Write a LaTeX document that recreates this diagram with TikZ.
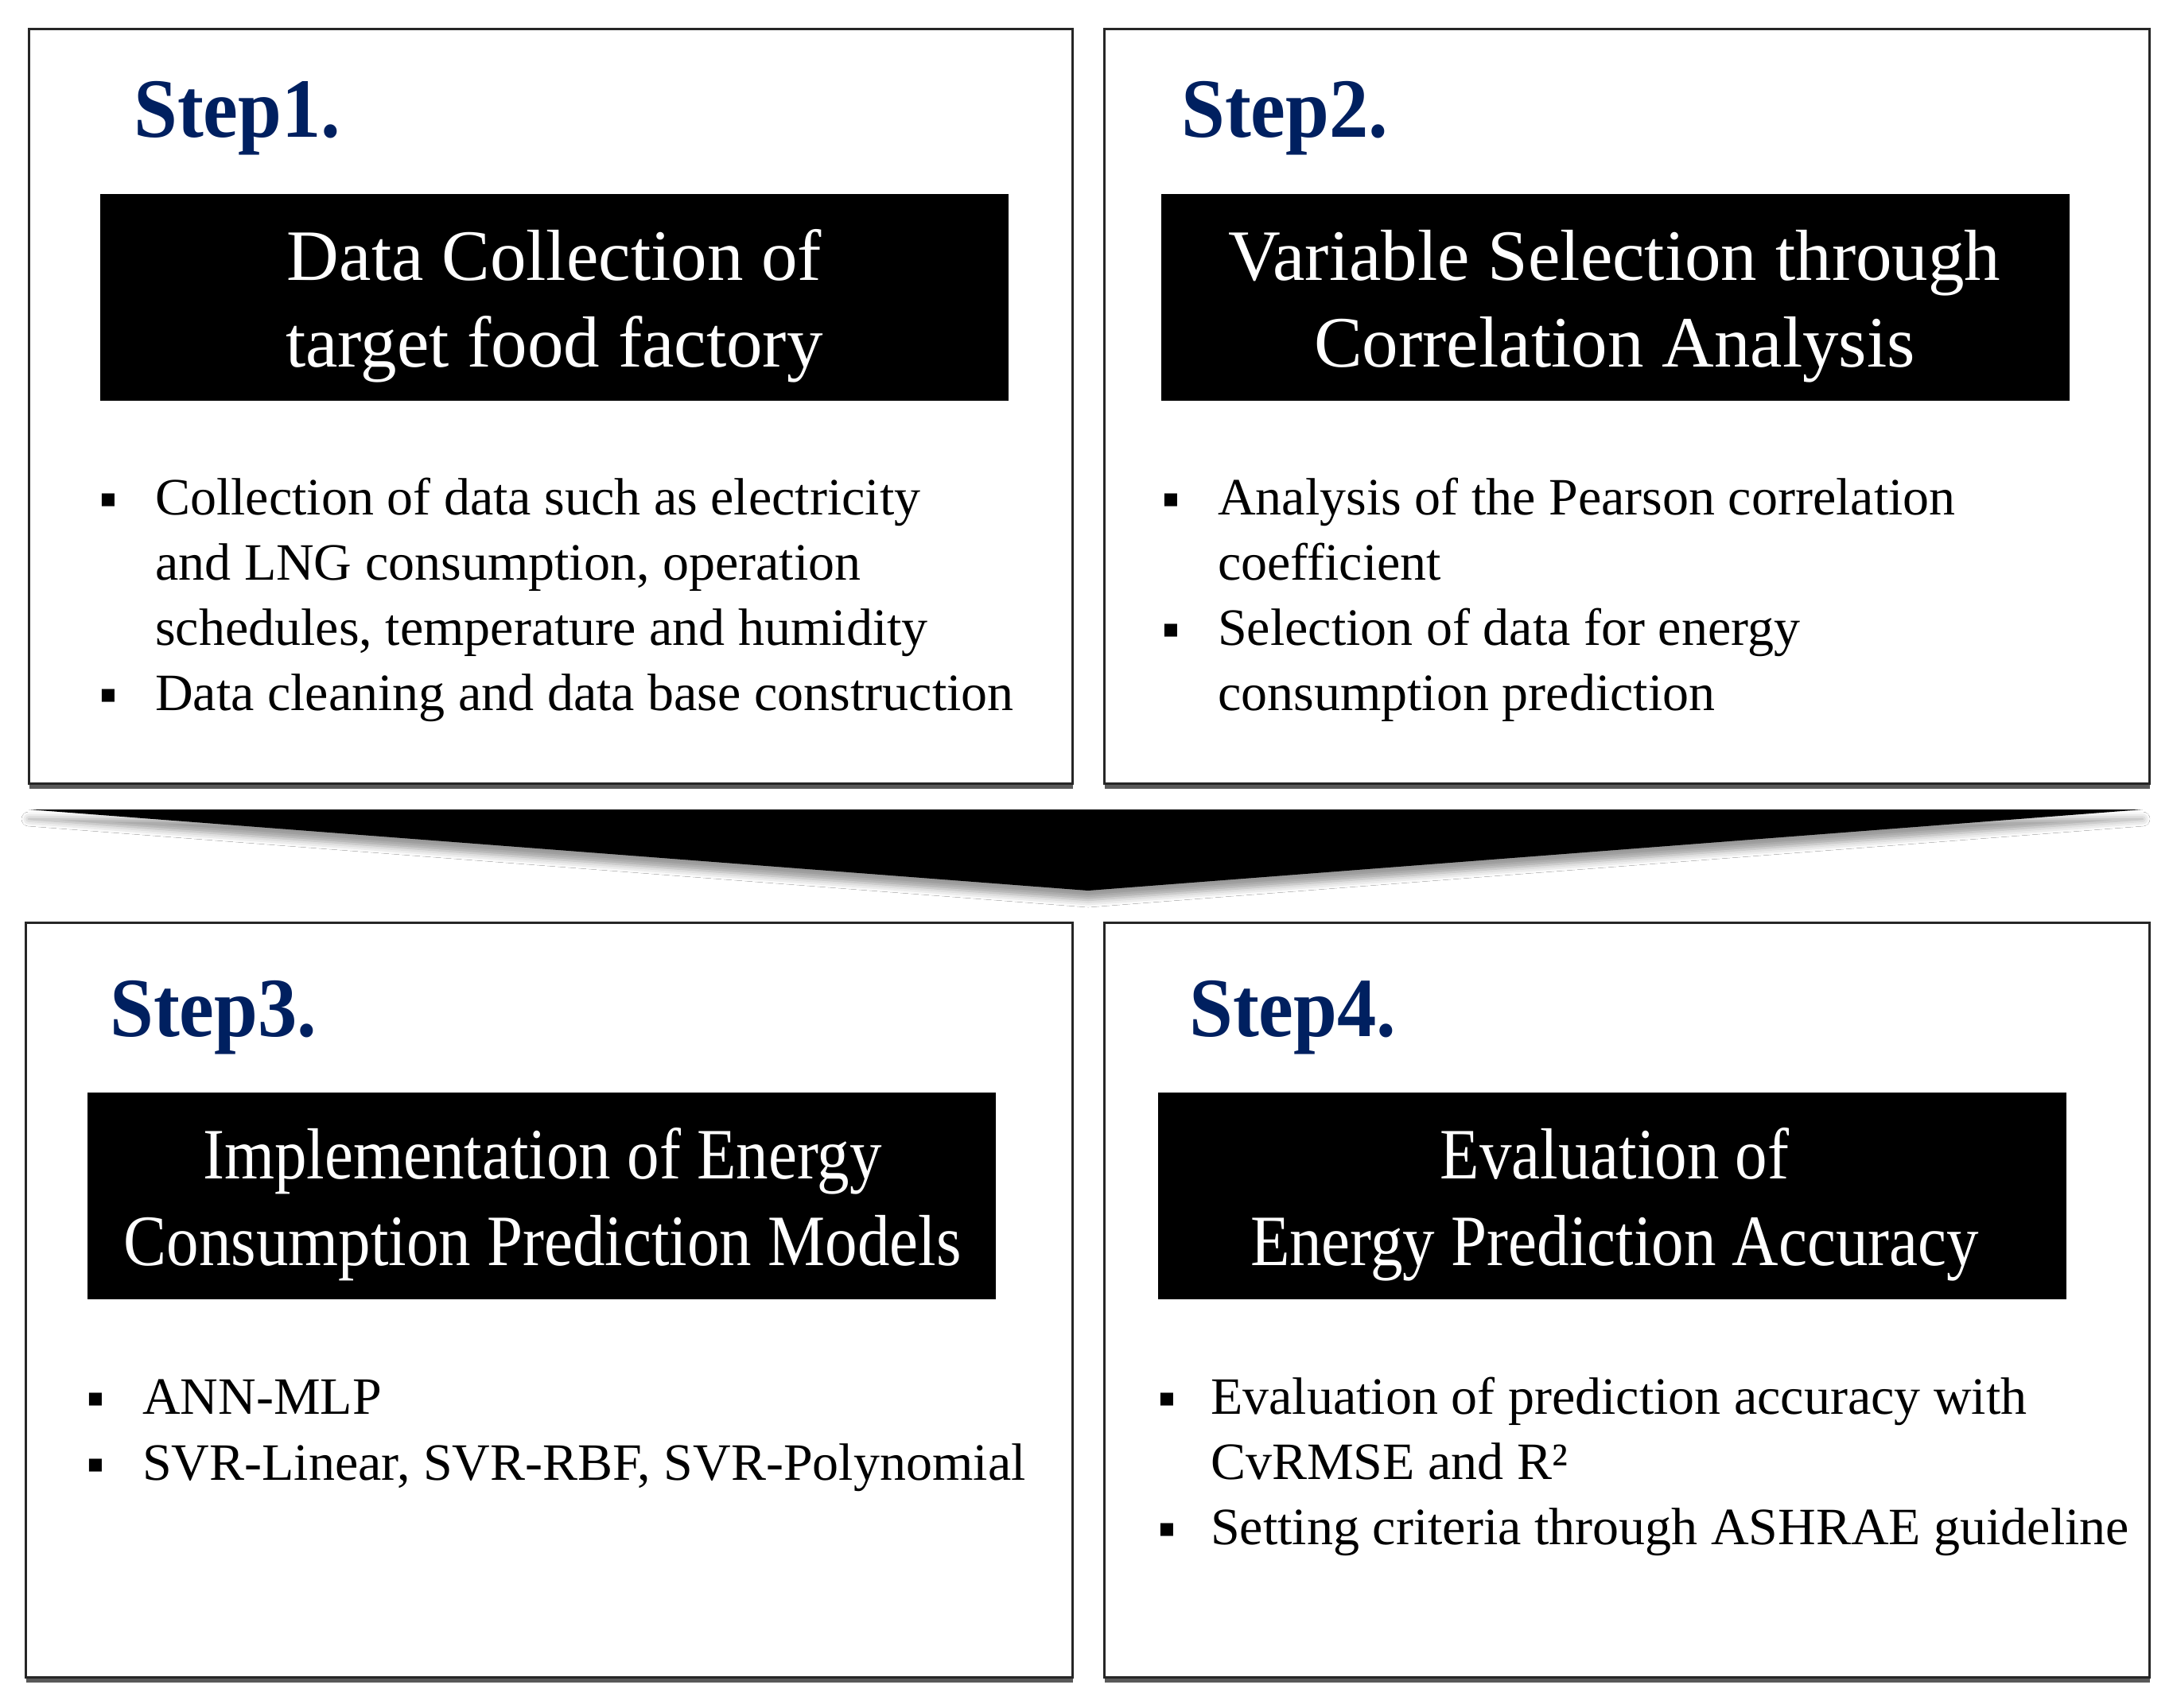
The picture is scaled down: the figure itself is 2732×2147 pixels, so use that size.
\documentclass[tikz,border=0pt]{standalone}
\usepackage{fontspec}
\setmainfont{Liberation Serif}
\newfontfamily\stepfont[FakeStretch=0.93]{Liberation Serif}
\newfontfamily\condfont[FakeStretch=0.89]{Liberation Serif}
\newfontfamily\symfont{DejaVu Sans}
\usetikzlibrary{shadows,shadows.blur}
\definecolor{stepblue}{RGB}{0,32,96}
\begin{document}
\begin{tikzpicture}[x=1pt,y=-1pt,
  frame/.style={draw=black!85, line width=3pt, fill=white, inner sep=0pt, anchor=north west,
    drop shadow={shadow xshift=0pt, shadow yshift=-6pt, fill=black!65, opacity=1}},
  tbox/.style={fill=black, minimum width=1142pt, minimum height=260pt, inner sep=0pt},
  ttext/.style={text=white, font=\fontsize{91}{109}\selectfont, anchor=base, inner sep=0pt},
  ctext/.style={text=white, font=\condfont\fontsize{91}{109}\selectfont, anchor=base, inner sep=0pt},
  steplabel/.style={text=stepblue, font=\stepfont\bfseries\fontsize{106}{120}\selectfont, anchor=base west, inner sep=0pt},
  btext/.style={font=\fontsize{66}{82}\selectfont, anchor=base west, inner sep=0pt},
  bul/.style={font=\symfont\fontsize{21}{21}\selectfont, inner sep=0pt}
]
\useasboundingbox (0,0) rectangle (2732,2147);
\fill[white] (0,0) rectangle (2732,2147);

% frames
\node[frame, minimum width=1312pt, minimum height=949pt] (f1) at (35,35) {};
\node[frame, minimum width=1314pt, minimum height=949pt] (f2) at (1387,35) {};
\node[frame, minimum width=1316pt, minimum height=949pt] (f3) at (31,1159) {};
\node[frame, minimum width=1314pt, minimum height=949pt] (f4) at (1387,1159) {};

% big down arrow
\coordinate (al) at (36,1018);
\coordinate (ar) at (2694,1018);
\coordinate (at) at (1368,1120);
\fill[black, blur shadow={shadow xshift=0pt, shadow yshift=-12pt, shadow blur radius=9pt, shadow opacity=40}] (al) -- (ar) -- (at) -- cycle;

% step labels
\node[steplabel] (s1) at (168,172) {Step1.};
\node[steplabel] (s2) at (1485,172) {Step2.};
\node[steplabel] (s3) at (138,1303) {Step3.};
\node[steplabel] (s4) at (1495,1303) {Step4.};

% title boxes
\node[tbox] (b1) at (696.5,373.5) {};
\node[tbox] (b2) at (2030.5,373.5) {};
\node[tbox] (b3) at (680.5,1503.5) {};
\node[tbox] (b4) at (2026.5,1503.5) {};

\node[ttext] (t1a) at (697,352) {Data Collection of};
\node[ttext] (t1b) at (697,461) {target food factory};
\node[ttext] (t2a) at (2030,352) {Variable Selection through};
\node[ttext] (t2b) at (2030,461) {Correlation Analysis};
\node[ctext] (t3a) at (682,1482) {Implementation of Energy};
\node[ctext] (t3b) at (682,1591) {Consumption Prediction Models};
\node[ctext] (t4a) at (2030,1482) {Evaluation of};
\node[ctext] (t4b) at (2030,1591) {Energy Prediction Accuracy};

% box 1 bullets
\node[bul] (p1a) at (136,629) {■};
\node[btext] (l1a) at (195,647) {Collection of data such as electricity};
\node[btext] (l1b) at (195,729) {and LNG consumption, operation};
\node[btext] (l1c) at (195,811) {schedules, temperature and humidity};
\node[bul] (p1b) at (136,875) {■};
\node[btext] (l1d) at (195,893) {Data cleaning and data base construction};

% box 2 bullets
\node[bul] (p2a) at (1472,629) {■};
\node[btext] (l2a) at (1531,647) {Analysis of the Pearson correlation};
\node[btext] (l2b) at (1531,729) {coefficient};
\node[bul] (p2b) at (1472,793) {■};
\node[btext] (l2c) at (1531,811) {Selection of data for energy};
\node[btext] (l2d) at (1531,893) {consumption prediction};

% box 3 bullets
\node[bul] (p3a) at (120,1760) {■};
\node[btext] (l3a) at (179,1778) {ANN-MLP};
\node[bul] (p3b) at (120,1843) {■};
\node[btext] (l3b) at (179,1861) {SVR-Linear, SVR-RBF, SVR-Polynomial};

% box 4 bullets
\node[bul] (p4a) at (1467,1760) {■};
\node[btext] (l4a) at (1522,1778) {Evaluation of prediction accuracy with};
\node[btext] (l4b) at (1522,1860) {CvRMSE and R²};
\node[bul] (p4b) at (1467,1924) {■};
\node[btext] (l4c) at (1522,1942) {Setting criteria through ASHRAE guideline};
\end{tikzpicture}
\end{document}
